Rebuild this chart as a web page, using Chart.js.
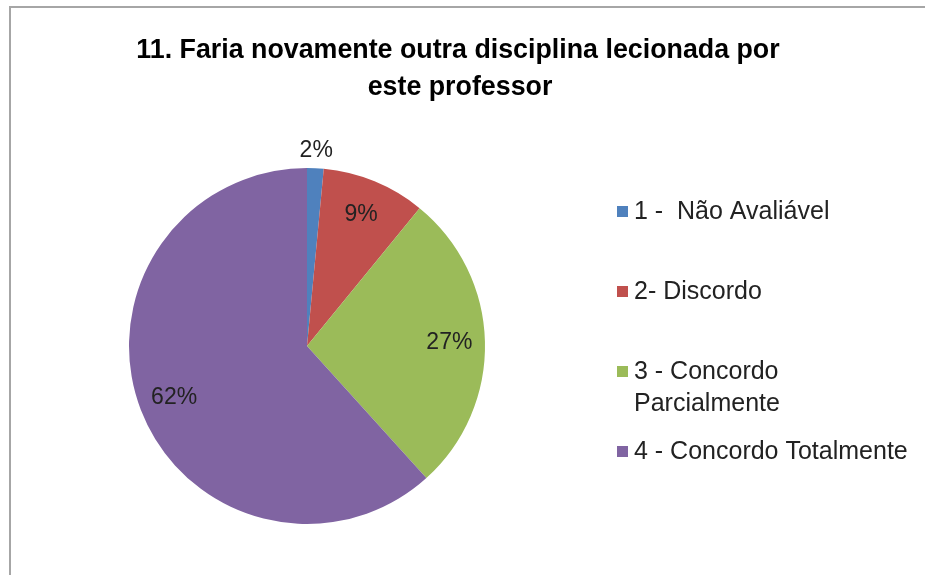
<!DOCTYPE html>
<html>
<head>
<meta charset="utf-8">
<script src="https://cdn.jsdelivr.net/npm/chart.js@4.4.0/dist/chart.umd.min.js"></script>
<style>
  html, body { margin: 0; padding: 0; background: #fff; }
  #wrap { position: relative; width: 925px; height: 575px; }
  #frame { position: absolute; left: 9px; top: 6px; width: 930px; height: 600px; border-left: 2px solid #a6a6a6; border-top: 2px solid #a6a6a6; }
  canvas { position: absolute; left: 0; top: 0; }
</style>
</head>
<body>
<div id="wrap">
  <div id="frame"></div>
  <canvas id="pie" width="925" height="575"></canvas>
</div>
<script>
const titleLines = ['11. Faria novamente outra disciplina lecionada por', 'este professor'];
const categories = ['1 -  Não Avaliável', '2- Discordo', '3 - Concordo Parcialmente', '4 - Concordo Totalmente'];
const legendLines = [['1 -  Não Avaliável'], ['2- Discordo'], ['3 - Concordo', 'Parcialmente'], ['4 - Concordo Totalmente']];
const shares = [1.5, 9.4, 27.4, 61.7];
const colors = ['#4f81bd', '#c0504d', '#9bbb59', '#8064a2'];

const FONT = '"Liberation Sans", Arial, sans-serif';

// title, percentage labels and legend, drawn by hand to match the office layout
const decor = {
  id: 'decor',
  afterDraw(chart) {
    const ctx = chart.ctx;
    ctx.save();
    ctx.fillStyle = '#000';
    ctx.textAlign = 'center';
    ctx.textBaseline = 'alphabetic';
    ctx.font = 'bold 26.8px ' + FONT;
    ctx.fillText(titleLines[0], 458, 58);
    ctx.fillText(titleLines[1], 460, 95);

    // percentage labels
    const total = shares.reduce((a, b) => a + b, 0);
    const meta = chart.getDatasetMeta(0);
    ctx.font = '23px ' + FONT;
    ctx.fillStyle = '#222';
    ctx.textBaseline = 'middle';
    meta.data.forEach((arc, i) => {
      const p = arc.getProps(['x', 'y', 'startAngle', 'endAngle', 'outerRadius'], true);
      const mid = (p.startAngle + p.endAngle) / 2;
      const frac = shares[i] / total;
      const d = frac < 0.05 ? p.outerRadius * 1.1 : p.outerRadius * 0.8;
      const txt = Math.round(frac * 100) + '%';
      ctx.fillText(txt, p.x + Math.cos(mid) * d, p.y + Math.sin(mid) * d);
    });

    // legend
    const rows = [212, 292, 372, 452];
    ctx.textAlign = 'left';
    ctx.font = '25px ' + FONT;
    legendLines.forEach((lines, i) => {
      ctx.fillStyle = colors[i];
      ctx.fillRect(617, rows[i] - 6, 11, 11);
      ctx.fillStyle = '#222';
      lines.forEach((ln, j) => ctx.fillText(ln, 634, rows[i] + j * 32));
    });
    ctx.restore();
  }
};

new Chart(document.getElementById('pie'), {
  type: 'pie',
  data: {
    labels: categories,
    datasets: [{
      data: shares,
      backgroundColor: colors,
      borderWidth: 0
    }]
  },
  options: {
    responsive: false,
    animation: false,
    layout: { padding: { left: 129, right: 440, top: 168, bottom: 51 } },
    plugins: {
      legend: { display: false },
      tooltip: { enabled: false },
      title: { display: false }
    }
  },
  plugins: [decor]
});
</script>
</body>
</html>
